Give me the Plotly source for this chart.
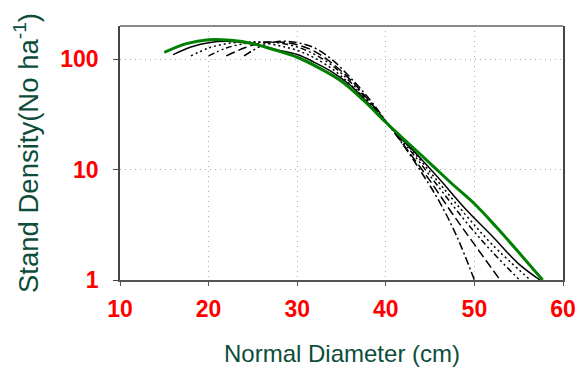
import plotly.graph_objects as go

# Normal diameter (cm) and stand density (No/ha) for each curve
green_x = [15, 17.5, 20, 22.5, 25, 27.5, 30, 32.5, 35, 37.5, 40, 42.5, 45, 47.5, 50, 52.5, 55, 57.7]
green_y = [115, 138, 150, 148, 138, 121, 104, 83, 63, 42.2, 26.8, 17.4, 11.4, 7.4, 4.9, 3.0, 1.78, 1.0]

a_x = [24, 25, 26, 28, 30, 32, 34, 36, 38, 40.5, 42, 44, 46, 48, 50]
a_y = [107, 120, 132, 145, 141, 126, 98, 68, 45, 24.3, 16.6, 9.5, 5.2, 2.5, 1.0]

b_x = [22, 24, 26, 28, 30, 32, 34, 36, 38, 40.5, 42.5, 45, 47.5, 50, 52.9]
b_y = [107, 126, 140, 143, 135, 117, 91, 65, 43, 24.3, 14.8, 7.9, 4.0, 2.1, 1.0]

c_x = [20, 22, 24, 26, 28, 30, 32, 34, 36, 38, 40.5, 43, 46, 49, 52, 55.1]
c_y = [107, 126, 138, 143, 140, 129, 110, 87, 62, 42, 24.3, 14.1, 6.9, 3.4, 1.8, 1.0]

d_x = [18, 20, 22, 24, 26, 28, 30, 32, 34, 36, 38, 40.5, 43, 46, 49, 52, 56.3]
d_y = [107, 126, 138, 143, 141, 132, 120, 102, 81, 59, 41, 24.3, 14.8, 7.6, 3.9, 2.1, 1.0]

e_x = [16, 18, 20, 22, 24, 26, 28, 30, 32, 34, 36, 38, 40.5, 43, 46, 49, 52, 55, 57.4]
e_y = [110, 129, 141, 145, 141, 132, 120, 110, 93, 76, 58, 40, 24.3, 15.1, 8.3, 4.4, 2.5, 1.4, 1.0]

x_ticks = [10, 20, 30, 40, 50, 60]
y_ticks = [1, 10, 100]
y_ticktext = ["1", "10", "100"]

black_series = [
    (a_x, a_y, "8px,3px,2px,3px"),
    (b_x, b_y, "9px,4px"),
    (c_x, c_y, "6px,3px,2px,3px,2px,3px"),
    (d_x, d_y, "2px,3px"),
    (e_x, e_y, "solid"),
]

fig = go.Figure()
for xs, ys, dash in black_series:
    fig.add_trace(go.Scatter(x=xs, y=ys, mode="lines",
                             line=dict(color="black", width=1.5, dash=dash,
                                       shape="spline", smoothing=1.0),
                             showlegend=False, hoverinfo="skip"))
fig.add_trace(go.Scatter(x=green_x, y=green_y, mode="lines",
                         line=dict(color="#008000", width=3, shape="spline", smoothing=1.0),
                         showlegend=False, hoverinfo="skip"))

FONT = "Liberation Sans, Arial, sans-serif"
tickfont = dict(family=FONT, size=23, color="#ff0000", weight="bold")
titlecolor = "#0d4d3a"

# the page body has an 8px margin, so the figure is sized to fill the rest of the window
fig.update_layout(
    width=578, height=361,
    margin=dict(l=112, r=23, t=18, b=89, autoexpand=False),
    paper_bgcolor="white", plot_bgcolor="white",
    xaxis=dict(range=[10, 60], tickvals=x_ticks, ticks="outside", ticklen=4,
               tickcolor="#555", tickfont=tickfont, showline=True, linecolor="#555",
               linewidth=1.5, mirror=False, showgrid=True, gridcolor="#b0b0b0",
               griddash="1px,4px", gridwidth=1, zeroline=False, ticklabelstandoff=4,
               automargin=False),
    yaxis=dict(type="log", range=[0, 2.3], tickvals=y_ticks, ticktext=y_ticktext,
               ticks="outside", ticklen=5, tickcolor="#444", tickfont=tickfont,
               showline=True, linecolor="#444", linewidth=1.5, mirror=True,
               showgrid=True, gridcolor="#b0b0b0", griddash="1px,4px", gridwidth=1,
               zeroline=False, ticklabelstandoff=10, automargin=False),
    shapes=[dict(type="line", xref="paper", yref="paper", x0=0, x1=1, y0=1, y1=1,
                 line=dict(color="#8a8a8a", width=2))],
    annotations=[
        dict(text="Normal Diameter (cm)", xref="paper", yref="paper",
             x=0.5, y=(280 - 353) / 254, xanchor="center", yanchor="middle",
             showarrow=False,
             font=dict(family=FONT, size=24, color=titlecolor)),
        dict(text="Stand Density(No ha<sup>-1</sup>)", xref="paper", yref="paper",
             x=(26 - 120) / 443, y=0.5, xanchor="center", yanchor="middle",
             textangle=-90, showarrow=False,
             font=dict(family=FONT, size=27.5, color=titlecolor)),
    ],
)

fig.write_html("out.html")
